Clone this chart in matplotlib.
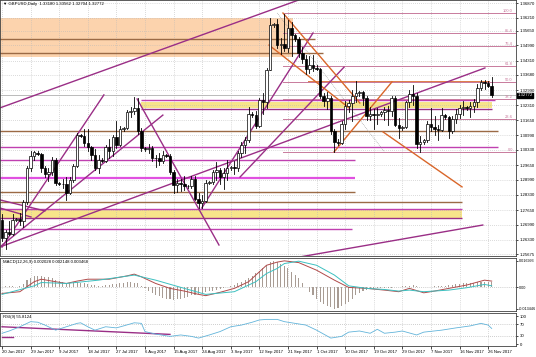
import matplotlib
matplotlib.use("Agg")
import matplotlib.pyplot as plt
import matplotlib.transforms as mtrans
from matplotlib.patches import Rectangle

plt.rcParams['font.family'] = ['Liberation Sans', 'DejaVu Sans']

# ---------------- data ----------------
# daily candles (6 bars/week incl. Sunday bars), bar 0 = 20 Jun 2017
opens = [1.2720,1.2640,1.2665,1.2660,1.2722,1.2725,1.2715,1.2800,1.2950,1.3005,
         1.3020,1.3015,1.2950,1.2925,1.2935,1.2990,1.2885,1.2880,1.2880,1.2840,
         1.2900,1.2960,1.3100,1.3095,1.3065,1.3045,1.3010,1.2950,1.2990,1.2985,
         1.3045,1.3030,1.3090,1.3055,1.3125,1.3130,1.3200,1.3205,1.3220,1.3115,
         1.3040,1.3035,1.3040,1.2995,1.2995,1.2985,1.3010,1.3005,1.2935,1.2875,
         1.2885,1.2880,1.2870,1.2872,1.2905,1.2815,1.2795,1.2805,1.2885,1.2890,
         1.2935,1.2945,1.2910,1.2930,1.2950,1.2955,1.2950,1.3020,1.3055,1.3075,
         1.3195,1.3190,1.3140,1.3255,1.3245,1.3390,1.3590,1.3595,1.3500,1.3505,
         1.3485,1.3575,1.3545,1.3525,1.3465,1.3440,1.3395,1.3410,1.3400,1.3395,
         1.3275,1.3250,1.3265,1.3115,1.3070,1.3065,1.3150,1.3230,1.3240,1.3275,
         1.3285,1.3290,1.3265,1.3185,1.3195,1.3190,1.3195,1.3200,1.3210,1.3205,
         1.3265,1.3145,1.3130,1.3135,1.3245,1.3280,1.3275,1.3060,1.3070,1.3075,
         1.3150,1.3135,1.3125,1.3120,1.3190,1.3180,1.3115,1.3170,1.3195,1.3220,
         1.3225,1.3220,1.3230,1.3245,1.3310,1.3335,1.3330,1.3318]
highs = [1.2745,1.2675,1.2715,1.2745,1.2730,1.2750,1.2810,1.2960,1.3030,1.3030,
         1.3028,1.3020,1.2960,1.2950,1.3000,1.2995,1.2890,1.2905,1.2910,1.2910,
         1.2970,1.3110,1.3105,1.3125,1.3125,1.3050,1.3035,1.3010,1.2995,1.3055,
         1.3080,1.3100,1.3160,1.3140,1.3135,1.3210,1.3225,1.3270,1.3265,1.3130,
         1.3045,1.3060,1.3050,1.3010,1.3020,1.3030,1.3015,1.3015,1.2945,1.2905,
         1.2905,1.2915,1.2878,1.2915,1.2915,1.2840,1.2830,1.2900,1.2895,1.2945,
         1.2980,1.2950,1.2950,1.2990,1.2960,1.2985,1.3030,1.3070,1.3090,1.3225,
         1.3200,1.3205,1.3265,1.3285,1.3400,1.3620,1.3600,1.3615,1.3530,1.3640,
         1.3610,1.3605,1.3550,1.3535,1.3490,1.3455,1.3450,1.3455,1.3410,1.3400,
         1.3285,1.3290,1.3275,1.3125,1.3080,1.3160,1.3250,1.3255,1.3300,1.3340,
         1.3295,1.3295,1.3275,1.3225,1.3215,1.3220,1.3205,1.3225,1.3230,1.3275,
         1.3275,1.3175,1.3140,1.3250,1.3300,1.3320,1.3285,1.3095,1.3080,1.3160,
         1.3220,1.3185,1.3145,1.3220,1.3195,1.3185,1.3185,1.3215,1.3235,1.3250,
         1.3230,1.3245,1.3260,1.3325,1.3345,1.3345,1.3340,1.3356]
lows = [1.2625,1.2590,1.2655,1.2655,1.2715,1.2700,1.2690,1.2790,1.2940,1.2990,
        1.3012,1.2935,1.2910,1.2895,1.2920,1.2875,1.2875,1.2865,1.2810,1.2835,
        1.2890,1.2955,1.3090,1.3050,1.3030,1.2990,1.2945,1.2930,1.2980,1.2980,
        1.2995,1.3005,1.3040,1.3050,1.3115,1.3125,1.3180,1.3195,1.3105,1.3030,
        1.3030,1.3020,1.2985,1.2955,1.2965,1.2975,1.3000,1.2925,1.2840,1.2845,
        1.2850,1.2855,1.2862,1.2865,1.2810,1.2775,1.2774,1.2800,1.2880,1.2880,
        1.2900,1.2880,1.2860,1.2900,1.2945,1.2925,1.2940,1.3000,1.3020,1.3070,
        1.3180,1.3130,1.3135,1.3195,1.3220,1.3390,1.3580,1.3485,1.3460,1.3475,
        1.3470,1.3450,1.3520,1.3445,1.3420,1.3370,1.3375,1.3385,1.3390,1.3265,
        1.3230,1.3215,1.3105,1.3025,1.3055,1.3060,1.3125,1.3200,1.3160,1.3245,
        1.3275,1.3235,1.3165,1.3165,1.3125,1.3150,1.3185,1.3165,1.3145,1.3185,
        1.3140,1.3085,1.3120,1.3130,1.3225,1.3235,1.3040,1.3025,1.3060,1.3070,
        1.3115,1.3100,1.3075,1.3115,1.3170,1.3085,1.3110,1.3155,1.3175,1.3190,
        1.3210,1.3180,1.3200,1.3225,1.3300,1.3305,1.3315,1.3270]
closes = [1.2640,1.2665,1.2660,1.2720,1.2725,1.2715,1.2800,1.2950,1.3005,1.3025,
          1.3015,1.2950,1.2925,1.2935,1.2990,1.2885,1.2880,1.2880,1.2840,1.2900,
          1.2960,1.3100,1.3095,1.3065,1.3045,1.3010,1.2950,1.2990,1.2985,1.3045,
          1.3030,1.3090,1.3055,1.3125,1.3130,1.3200,1.3205,1.3220,1.3115,1.3040,
          1.3035,1.3040,1.2995,1.2995,1.2985,1.3010,1.3005,1.2935,1.2875,1.2885,
          1.2880,1.2870,1.2872,1.2905,1.2815,1.2795,1.2805,1.2885,1.2890,1.2935,
          1.2945,1.2910,1.2930,1.2950,1.2955,1.2950,1.3020,1.3055,1.3075,1.3195,
          1.3190,1.3140,1.3255,1.3245,1.3390,1.3590,1.3595,1.3500,1.3505,1.3485,
          1.3575,1.3545,1.3525,1.3465,1.3440,1.3395,1.3410,1.3400,1.3395,1.3275,
          1.3250,1.3265,1.3115,1.3070,1.3065,1.3150,1.3230,1.3240,1.3275,1.3285,
          1.3290,1.3265,1.3185,1.3195,1.3190,1.3195,1.3200,1.3210,1.3205,1.3265,
          1.3145,1.3130,1.3135,1.3245,1.3280,1.3275,1.3060,1.3070,1.3075,1.3150,
          1.3135,1.3125,1.3120,1.3190,1.3180,1.3115,1.3170,1.3195,1.3220,1.3225,
          1.3220,1.3230,1.3245,1.3310,1.3335,1.3330,1.3318,1.3277]

date_labels = ["20 Jun 2017","29 Jun 2017","9 Jul 2017","18 Jul 2017","27 Jul 2017",
               "6 Aug 2017","15 Aug 2017","24 Aug 2017","3 Sep 2017","12 Sep 2017",
               "21 Sep 2017","1 Oct 2017","10 Oct 2017","19 Oct 2017","29 Oct 2017",
               "7 Nov 2017","16 Nov 2017","26 Nov 2017"]
date_label_bars = [0,8,16,24,32,40,48,56,64,72,80,88,96,104,112,120,128,136]

price_ticks = [1.36870,1.36210,1.35650,1.34990,1.34310,1.33680,1.32990,1.32310,1.31650,
               1.30990,1.30330,1.29650,1.28990,1.28330,1.27650,1.26990,1.26330,1.25675]
last_price = 1.32772

# MACD histogram per bar (x1e-3)
macd_hist = [0.5,0.8,1.0,0.6,0.5,1.2,2.0,
             4.5,6.0,7.0,7.5,7.2,6.8,6.5,6.0,
             5.0,4.2,3.5,3.0,3.0,3.2,3.5,
             3.0,2.6,2.2,1.8,1.4,1.2,
             1.2,1.5,1.8,2.0,2.2,2.6,3.0,3.2,3.4,3.0,2.5,
             1.0,-0.5,-2.0,-3.5,-4.5,-5.5,-6.5,-7.0,
             -7.5,-8.0,-7.5,-7.0,-6.5,-6.0,-5.0,-4.5,-4.0,
             -3.5,-3.0,-2.5,-2.0,-1.5,-1.0,-0.5,0.2,
             1.0,1.5,2.5,3.5,4.5,6.0,7.5,9.0,10.5,12.0,14.0,
             16.0,16.5,16.0,15.0,13.5,12.0,10.0,8.0,
             6.0,3.0,0.0,-3.0,-5.0,-7.0,
             -9.0,-10.5,-11.5,-12.5,-13.4,-13.0,-12.0,-10.5,
             -9.0,-7.0,-5.0,-3.5,-2.5,-1.5,-1.0,
             -0.8,-0.6,-0.5,-0.4,-0.3,-0.2,0.2,0.4,0.6,0.8,1.2,1.5,1.0,0.5,0.2,
             0.3,0.5,0.6,0.8,1.0,1.2,1.5,1.8,2.0,2.2,2.5,2.6,2.8,3.0,3.2,3.4,3.5,3.4,3.2]
macd_red_bars = [0,5,9,11,14,18,21,24,27,30,35,37,39,43,47,51,55,57,61,65,69,71,74,77,79,
                 83,88,93,97,102,107,111,114,118,121,125,130,135,137]
macd_red = [-3.8,-2.7,3.6,5.2,4.0,2.5,4.0,5.2,5.2,5.2,7.3,8.4,6.7,2.5,-0.6,-2.3,-4.4,-5.2,
            -3.1,-0.6,3.6,7.8,14.0,16.0,16.8,15.7,10.9,4.6,0.0,-0.6,-1.7,-2.7,-0.6,-3.4,
            -2.3,-0.6,1.5,4.6,4.0]
macd_cyan_bars = [0,9,11,18,27,37,43,51,57,65,71,74,77,79,83,88,93,97,102,107,111,114,118,
                  125,130,135,137]
macd_cyan = [-4.4,1.0,3.1,2.5,4.6,7.8,4.6,-0.6,-4.4,-2.7,3.6,8.8,12.0,15.1,16.6,14.0,7.8,
             1.0,-0.6,-1.3,-2.3,-1.7,-2.7,-1.7,-0.2,1.9,1.0]

rsi_bars = [0,2,5,8,10,12,15,18,21,22,24,26,29,32,34,37,39,40,43,47,50,53,55,58,61,64,
            67,70,72,74,77,79,82,85,88,92,95,97,100,103,105,107,110,112,116,118,123,127,
            131,134,136,137]
rsi_vals = [39,47,62,80,78,68,50,62,74,76,62,50,62,58,65,76,74,45,36,28,33,28,22,33,45,62,
            68,78,86,88,88,80,74,68,50,22,28,43,47,39,53,39,43,47,33,43,50,58,65,74,68,56]
rsi_trend = [(0, 62), (47, 35)]
rsi_trend2 = [(0, 26), (3, 26)]

# chart objects: horizontal levels (price, from bar, to bar, colour key, width)
h_levels = [
    (1.3527, -1, 87.6, 'brown', 1.0), (1.3465, -1, 89.8, 'brown', 1.0),
    (1.3336, 85.6, 136.5, 'orange', 1.2),
    (1.3255, 39.0, 137.9, 'magenta', 1.0), (1.3215, 39.0, 137.0, 'purple', 1.0),
    (1.3117, -1, 138.7, 'brown', 1.0), (1.3046, -1, 138.7, 'magenta', 1.0),
    (1.2988, -1, 98.7, 'magenta', 1.0), (1.2908, -1, 98.7, 'brightmag', 1.6),
    (1.2845, -1, 98.7, 'brown', 1.0), (1.2801, -1, 128.7, 'brown', 1.0),
    (1.2769, -1, 128.7, 'magenta', 1.0), (1.2729, -1, 128.7, 'purple', 1.0),
    (1.2680, -1, 97.9, 'magenta', 1.0),
]
bands = [(1.3447, 1.3621, -1, 81.4, 'peach'), (1.3220, 1.3246, 39.0, 137.0, 'yellow'),
         (1.2729, 1.2765, -1, 128.7, 'yellow')]
fib_high, fib_low, fib_start = 1.3643, 1.3024, 78.6
fib_levels = [100.0, 85.4, 76.4, 61.8, 50.0, 38.2, 23.6, 0.0]
fib_diag = [(77.0, 1.3643), (107.0, 1.3024)]
trend_lines = [
    ((-0.6, 1.3220), (83.0, 1.3701), 'purple'),
    ((0.0, 1.2600), (28.5, 1.3278), 'purple'),
    ((-0.6, 1.2600), (45.0, 1.3188), 'purple'),
    ((-0.6, 1.2600), (135.1, 1.3398), 'purple'),
    ((37.8, 1.3260), (60.7, 1.2609), 'purple'),
    ((-0.6, 1.2810), (12.0, 1.2761), 'purple'),
    ((-0.6, 1.2774), (8.1, 1.2734), 'purple'),
    ((55.9, 1.2774), (87.0, 1.3554), 'purple'),
    ((66.6, 1.2912), (95.7, 1.3402), 'purple'),
    ((83.4, 1.2556), (134.5, 1.2698), 'purple'),
    ((78.6, 1.3643), (100.1, 1.3242), 'orange'),
    ((74.7, 1.3500), (97.1, 1.3220), 'orange'),
    ((106.6, 1.3113), (128.7, 1.2868), 'orange'),
    ((92.9, 1.3024), (109.1, 1.3336), 'orange'),
]

colors = {'brown': '#9b6a45', 'orange': '#d9662a', 'magenta': '#c040b0', 'purple': '#9a2e86',
          'brightmag': '#e050e0', 'peach': '#fcd3ad', 'yellow': '#f7e48a'}
fib_color = '#c87a9c'
grid_color = '#b8b8b8'
FS = 3.1

# ---------------- figure ----------------
W, H = 536, 357
fig = plt.figure(figsize=(W/100, H/100), dpi=100)
fig.patch.set_facecolor('white')

def rect(x0, y0, x1, y1):
    return [x0/W, 1 - y1/H, (x1 - x0)/W, (y1 - y0)/H]

ax = fig.add_axes(rect(0, 0, 516, 256))
axm = fig.add_axes(rect(0, 258, 516, 311))
axr = fig.add_axes(rect(0, 313, 516, 346))

xl = (-0.56, 143.8)
n = len(closes)
idx = list(range(n))

for a in (ax, axm, axr):
    a.set_xlim(*xl)
    a.set_xticks(date_label_bars)
    a.grid(True, linestyle=(0, (1, 2)), color=grid_color, linewidth=0.5)
    a.set_axisbelow(True)
    a.yaxis.tick_right()
    a.tick_params(axis='y', labelsize=FS, length=1.5, width=0.5, pad=1.0)
    a.tick_params(axis='x', length=0)
    for s in a.spines.values():
        s.set_color('#404040')
        s.set_linewidth(0.6)
ax.set_xticklabels([])
axm.set_xticklabels([])
axr.set_xticklabels(date_labels, fontsize=FS)
axr.tick_params(axis='x', length=2, width=0.5, pad=1)
for lbl in axr.get_xticklabels():
    lbl.set_horizontalalignment('left')

# main panel
ax.set_ylim(1.2560, 1.3701)
ax.set_yticks(price_ticks)
ax.set_yticklabels([f"{p:.5f}" for p in price_ticks])

for lo, hi, b0, b1, c in bands:
    ax.fill_between([b0, b1], lo, hi, color=colors[c], lw=0, zorder=0.5)
for p, b0, b1, c, lw in h_levels:
    ax.plot([b0, b1], [p, p], color=colors[c], lw=lw, zorder=1, solid_capstyle='butt')

# fib
for lv in fib_levels:
    p = fib_low + (fib_high - fib_low) * lv / 100.0
    ax.plot([fib_start, xl[1]], [p, p], color=fib_color, lw=0.7, zorder=1)
    ax.text(142.9, p, f"{lv:.1f}", color=fib_color, fontsize=2.9, ha='right', va='bottom',
            zorder=3)
ax.plot([q[0] for q in fib_diag], [q[1] for q in fib_diag], color='#909090', lw=0.5,
        linestyle=(0, (1, 1.5)), zorder=1.5)

ax.axhline(last_price, color='#b0b0b0', lw=0.6, zorder=1)

for (b0, p0), (b1, p1), c in trend_lines:
    ax.plot([b0, b1], [p0, p1], color=colors[c], lw=1.0, zorder=2)

# candles
for i in idx:
    o, h, l, c = opens[i], highs[i], lows[i], closes[i]
    ax.plot([i, i], [l, h], color='black', lw=0.6, zorder=4)
    bull = c >= o
    bottom = min(o, c)
    height = max(abs(c - o), 0.00012)
    ax.add_patch(Rectangle((i - 0.35, bottom), 0.7, height,
                           facecolor='white' if bull else 'black',
                           edgecolor='black', lw=0.5, zorder=5))

ax.text(0.005, 0.992, "\u25BC GBPUSD,Daily  1.33180 1.33562 1.32704 1.32772",
        transform=ax.transAxes, fontsize=FS, va='top', ha='left', color='black')

trans = mtrans.blended_transform_factory(ax.transAxes, ax.transData)
ax.text(1.003, last_price, f"{last_price:.5f}", transform=trans, fontsize=FS,
        color='white', va='center', ha='left', zorder=10, clip_on=False,
        bbox=dict(boxstyle='square,pad=0.12', fc='black', ec='black'))

# MACD panel
axm.set_ylim(-0.0149, 0.0186)
axm.set_yticks([0.016993, 0.0, -0.013446])
axm.set_yticklabels(["0.016993", "0.00", "-0.013446"])
axm.tick_params(axis='y', labelsize=2.7, pad=0.6, length=1.2)
axm.grid(False, axis='y')
axm.axhline(0, color='#a0a0a0', lw=0.5, linestyle=(0, (1, 2)))
axm.bar(idx, [v/1000 for v in macd_hist], width=0.3, color='#a89c94', zorder=2)
axm.plot(macd_red_bars, [v/1000 for v in macd_red], color='#b04a4a', lw=0.7, zorder=3)
axm.plot(macd_cyan_bars, [v/1000 for v in macd_cyan], color='#3cc0c0', lw=0.7, zorder=3)
axm.text(0.005, 0.97, "MACD(12,26,9) 0.002028 0.002148 0.003468", transform=axm.transAxes,
         fontsize=FS, va='top', ha='left')

# RSI panel
axr.set_ylim(-6, 110.6)
axr.set_yticks([100, 70, 30, 0])
axr.set_yticklabels(["100", "70", "30", "0"])
axr.grid(False, axis='y')
for lv in (70, 30):
    axr.axhline(lv, color='#a0a0a0', lw=0.5, linestyle=(0, (1, 2)))
axr.plot(rsi_bars, rsi_vals, color='#62b4da', lw=0.6, zorder=3)
axr.plot([p[0] for p in rsi_trend], [p[1] for p in rsi_trend], color=colors['purple'], lw=1.0)
axr.plot([p[0] for p in rsi_trend2], [p[1] for p in rsi_trend2], color=colors['purple'], lw=1.0)
axr.text(0.005, 0.95, "RSI(9) 55.8124", transform=axr.transAxes, fontsize=FS,
         va='top', ha='left')

fig.savefig("out.png", dpi=100)
